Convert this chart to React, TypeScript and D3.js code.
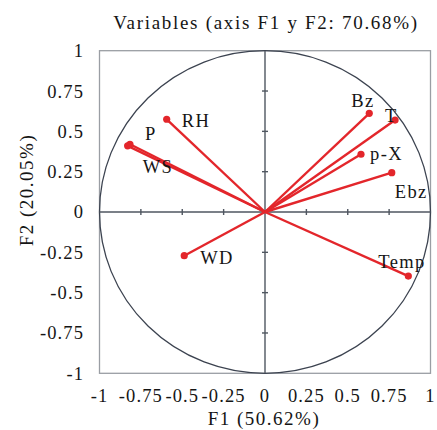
import { useEffect, useRef } from 'react';
import * as d3 from 'd3';

// variable loadings on F1 / F2
const names = ['RH', 'P', 'WS', 'WD', 'Bz', 'T', 'p-X', 'Ebz', 'Temp'];
const f1 = [-0.594, -0.816, -0.83, -0.488, 0.63, 0.786, 0.58, 0.766, 0.866];
const f2 = [0.575, 0.42, 0.41, -0.271, 0.612, 0.57, 0.358, 0.244, -0.397];

// label offsets in px from the arrow tip (layout only)
const labelDx = [15, 15, 15, 16, -18, -10, 9, 3, -30];
const labelDy = [8, -4, 27, 8, -6, 2, 6, 25, -8];

const ticks = [-1, -0.75, -0.5, -0.25, 0, 0.25, 0.5, 0.75, 1];

const W = 437;
const H = 430;
const FONT = '"Liberation Serif", "Times New Roman", serif';

const App = () => {
    const ref = useRef<SVGSVGElement>(null);

    useEffect(() => {
        const svg = d3.select(ref.current);
        svg.selectAll('*').remove();

        const x = d3.scaleLinear().domain([-1, 1]).range([99.5, 430.5]);
        const y = d3.scaleLinear().domain([-1, 1]).range([373.3, 50.7]);

        // frame
        svg.append('rect')
            .attr('x', x(-1)).attr('y', y(1))
            .attr('width', x(1) - x(-1)).attr('height', y(-1) - y(1))
            .attr('fill', 'none').attr('stroke', '#9a9ea4').attr('stroke-width', 1.3);

        // correlation circle
        svg.append('ellipse')
            .attr('cx', x(0)).attr('cy', y(0))
            .attr('rx', x(1) - x(0)).attr('ry', y(0) - y(1))
            .attr('fill', 'none').attr('stroke', '#3c4350').attr('stroke-width', 1.3);

        // axes through zero
        svg.append('line')
            .attr('x1', x(-1)).attr('x2', x(1)).attr('y1', y(0)).attr('y2', y(0))
            .attr('stroke', '#4f5660').attr('stroke-width', 1.4);
        svg.append('line')
            .attr('x1', x(0)).attr('x2', x(0)).attr('y1', y(-1)).attr('y2', y(1))
            .attr('stroke', '#4f5660').attr('stroke-width', 1.4);

        ticks.filter(t => Math.abs(t) < 1 && t !== 0).forEach(t => {
            svg.append('line')
                .attr('x1', x(t)).attr('x2', x(t)).attr('y1', y(0) - 3).attr('y2', y(0) + 3)
                .attr('stroke', '#4f5660').attr('stroke-width', 1.4);
            svg.append('line')
                .attr('x1', x(0) - 3).attr('x2', x(0) + 3).attr('y1', y(t)).attr('y2', y(t))
                .attr('stroke', '#4f5660').attr('stroke-width', 1.4);
        });

        // tick labels
        const fmt = (t: number) => String(t);
        svg.append('g').selectAll('text').data(ticks).join('text')
            .attr('x', 84).attr('y', d => y(d)).attr('dy', '0.35em')
            .attr('text-anchor', 'end')
            .style('font-family', FONT).style('font-size', '18.5px').style('letter-spacing', '1.1px')
            .attr('fill', '#151515').text(fmt);
        svg.append('g').selectAll('text').data(ticks).join('text')
            .attr('x', d => x(d)).attr('y', 402)
            .attr('text-anchor', 'middle')
            .style('font-family', FONT).style('font-size', '18.5px').style('letter-spacing', '1.1px')
            .attr('fill', '#151515').text(fmt);

        // vectors
        const idx = d3.range(names.length);
        const g = svg.append('g');
        g.selectAll('line').data(idx).join('line')
            .attr('x1', x(0)).attr('y1', y(0))
            .attr('x2', i => x(f1[i])).attr('y2', i => y(f2[i]))
            .attr('stroke', '#e3262b').attr('stroke-width', 2.4);
        g.selectAll('circle').data(idx).join('circle')
            .attr('cx', i => x(f1[i])).attr('cy', i => y(f2[i])).attr('r', 3.6)
            .attr('fill', '#e3262b');
        g.selectAll('text').data(idx).join('text')
            .attr('x', i => x(f1[i]) + labelDx[i]).attr('y', i => y(f2[i]) + labelDy[i])
            .style('font-family', FONT).style('font-size', '18.5px').style('letter-spacing', '1.4px')
            .attr('fill', '#151515').text(i => names[i]);

        // titles
        svg.append('text')
            .attr('x', 266).attr('y', 29).attr('text-anchor', 'middle')
            .style('font-family', FONT).style('font-size', '19px').style('letter-spacing', '1.7px')
            .attr('fill', '#151515').text('Variables (axis F1 y F2: 70.68%)');
        svg.append('text')
            .attr('x', 264).attr('y', 425).attr('text-anchor', 'middle')
            .style('font-family', FONT).style('font-size', '19px').style('letter-spacing', '1.5px')
            .attr('fill', '#151515').text('F1 (50.62%)');
        svg.append('text')
            .attr('transform', 'translate(33,190) rotate(-90)').attr('text-anchor', 'middle')
            .style('font-family', FONT).style('font-size', '19px').style('letter-spacing', '1.5px')
            .attr('fill', '#151515').text('F2 (20.05%)');
    }, []);

    return (
        <div style={{ position: 'fixed', left: 0, top: 0, width: W, height: H, background: '#fff' }}>
            <svg ref={ref} width={W} height={H} style={{ display: 'block' }} />
        </div>
    );
};

export default App;
